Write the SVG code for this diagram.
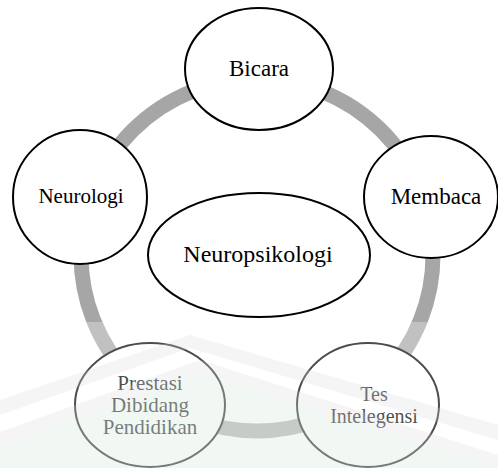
<svg xmlns="http://www.w3.org/2000/svg" width="498" height="468" viewBox="0 0 498 468">
<style>
.node{fill:#ffffff;stroke:#000000;stroke-width:2}
text{fill:#000000;text-anchor:middle}
</style>
<rect x="0" y="0" width="498" height="468" fill="#ffffff"/>
<g id="connectors">
<circle cx="257" cy="255" r="176" fill="none" stroke="#a6a6a6" stroke-width="15"/>
</g>
<g font-family="'Liberation Serif', 'Times New Roman', Times, serif">
<g id="node-bicara"><ellipse class="node" cx="259" cy="69" rx="74" ry="61"/><text x="259" y="76" font-size="23">Bicara</text></g>
<g id="node-neurologi"><ellipse class="node" cx="80" cy="197" rx="67" ry="67"/><text x="81" y="203" font-size="21">Neurologi</text></g>
<g id="node-membaca"><ellipse class="node" cx="431" cy="197" rx="67" ry="61"/><text x="436" y="204" font-size="23">Membaca</text></g>
<g id="node-neuropsikologi"><ellipse class="node" cx="259" cy="255" rx="111" ry="62"/><text x="258" y="262" font-size="24">Neuropsikologi</text></g>
<g id="node-prestasi"><ellipse class="node" cx="150" cy="405" rx="75" ry="62"/><text x="150" y="390" font-size="21">Prestasi</text><text x="150" y="412" font-size="21">Dibidang</text><text x="150" y="434" font-size="21">Pendidikan</text></g>
<g id="node-tes"><ellipse class="node" cx="368" cy="405" rx="71" ry="62"/><text x="374" y="401" font-size="20">Tes</text><text x="374" y="423" font-size="20">Intelegensi</text></g>
</g>
<g id="watermark">
<rect x="0" y="322" width="498" height="146" fill="#ffffff" opacity="0.3"/>
<polygon points="0,447 200,373 498,468 0,468" fill="#cfe9dc" opacity="0.3"/>
<polygon points="0,400 190,335 498,425 498,440 190,348 0,415" fill="#d8d8d8" opacity="0.25"/>
<polygon points="0,432 200,360 498,455 498,468 200,373 0,447" fill="#d8d8d8" opacity="0.25"/>
</g>
</svg>
